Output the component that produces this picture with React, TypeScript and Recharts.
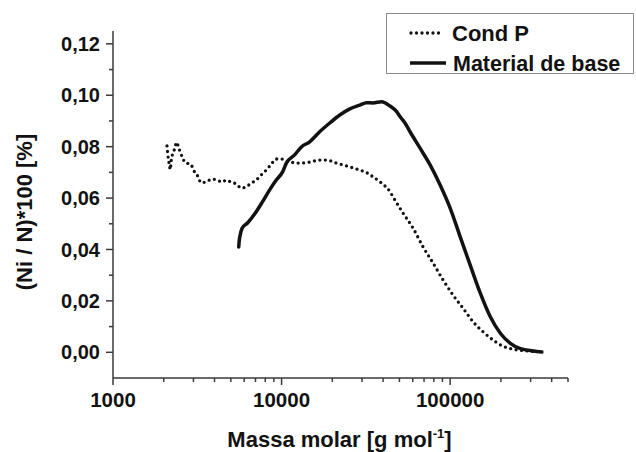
import React from 'react';
import { LineChart, Line, XAxis, YAxis, Legend } from 'recharts';

// ---- data ----
const condPMass = [2090, 2110, 2135, 2160, 2185, 2215, 2250, 2290, 2330, 2380, 2470, 2560, 2680, 2900, 3000, 3180, 3330, 3610, 3830, 4160, 4440, 4690, 5020, 5380, 5760, 6170, 6600, 7070, 7570, 8110, 8690, 9300, 9960, 11160, 12800, 14680, 16830, 18450, 21160, 24280, 27840, 31940, 34820, 39230, 43950, 45790, 52510, 60240, 69070, 79200, 90850, 104200, 119500, 137100, 157200, 180300, 206800, 237100, 287300, 330000];
const condPValues = [0.0803, 0.0775, 0.0748, 0.0729, 0.0711, 0.0745, 0.0768, 0.0782, 0.0794, 0.0817, 0.0790, 0.0764, 0.0738, 0.0731, 0.0709, 0.0686, 0.0660, 0.0664, 0.0674, 0.0670, 0.0662, 0.0670, 0.0662, 0.0655, 0.0639, 0.0644, 0.0658, 0.0670, 0.0690, 0.0709, 0.0732, 0.0752, 0.0752, 0.0741, 0.0736, 0.0740, 0.0748, 0.0748, 0.0736, 0.0725, 0.0713, 0.0699, 0.0683, 0.0658, 0.0625, 0.0605, 0.0542, 0.0483, 0.0410, 0.0347, 0.0281, 0.0222, 0.0171, 0.0118, 0.0079, 0.0047, 0.0023, 0.0012, 0.0005, 0.0002];

const baseMass = [5570, 5600, 5650, 5840, 6280, 7070, 7710, 8480, 9300, 10140, 10670, 11950, 13110, 14680, 16830, 19310, 22140, 25400, 29130, 31940, 34820, 39230, 43950, 48160, 50400, 53960, 57810, 66290, 76030, 87200, 100000, 114700, 131500, 150900, 173000, 198400, 227600, 261000, 311900, 350000];
const baseValues = [0.0410, 0.0430, 0.0449, 0.0483, 0.0503, 0.0547, 0.0586, 0.0631, 0.0670, 0.0702, 0.0736, 0.0768, 0.0799, 0.0819, 0.0858, 0.0892, 0.0923, 0.0947, 0.0962, 0.0971, 0.0970, 0.0975, 0.0958, 0.0936, 0.0917, 0.0892, 0.0858, 0.0794, 0.0729, 0.0651, 0.0561, 0.0449, 0.0339, 0.0230, 0.0138, 0.0074, 0.0035, 0.0014, 0.0005, 0.0001];

const xMajorTicks = [1000, 10000, 100000];
const xMinorTicks = [2000, 3000, 4000, 5000, 6000, 7000, 8000, 9000, 20000, 30000, 40000, 50000, 60000, 70000, 80000, 90000, 200000, 300000, 400000, 500000];
const xDomain = [1000, 500000];

const yMajorTicks = [0, 0.02, 0.04, 0.06, 0.08, 0.1, 0.12];
const yMinorTicks = [0.01, 0.03, 0.05, 0.07, 0.09, 0.11];
const yDomain = [-0.01, 0.125];

const seriesNames = ['Cond P', 'Material de base'];
const xTitle = 'Massa molar [g mol';
const yTitle = '(Ni / N)*100 [%]';

const condPData = condPMass.map((m, i) => ({ m, v: condPValues[i] }));
const baseData = baseMass.map((m, i) => ({ m, v: baseValues[i] }));
const xTicks = [...xMajorTicks, ...xMinorTicks].sort((a, b) => a - b);
const yTicks = [...yMajorTicks, ...yMinorTicks].sort((a, b) => a - b);

const FONT = '"Liberation Sans", Arial, sans-serif';
const AXIS = '#3a3a3a';
const INK = '#121212';

const XTick = (props: any) => {
  const { x, y, payload } = props;
  const v = payload.value;
  const major = xMajorTicks.includes(v);
  return (
    <g>
      <line x1={x} x2={x} y1={y} y2={y + (major ? 7 : 4)} stroke={AXIS} strokeWidth={1.5} />
      {major && (
        <text x={x} y={y + 14} dy="0.71em" textAnchor="middle" fontFamily={FONT} fontWeight="bold" fontSize={20.5} fill={INK}>
          {String(v)}
        </text>
      )}
    </g>
  );
};

const YTick = (props: any) => {
  const { x, y, payload } = props;
  const v = payload.value;
  const major = yMajorTicks.some((t) => Math.abs(t - v) < 1e-9);
  return (
    <g>
      <line x1={x - (major ? 7 : 4)} x2={x} y1={y} y2={y} stroke={AXIS} strokeWidth={1.5} />
      {major && (
        <text x={x - 13} y={y} dy="0.355em" textAnchor="end" fontFamily={FONT} fontWeight="bold" fontSize={20} fill={INK}>
          {v.toFixed(2).replace('.', ',')}
        </text>
      )}
    </g>
  );
};

const renderLegend = () => (
  <svg width={248} height={61} style={{ display: 'block', overflow: 'visible' }}>
    <rect x={0.5} y={0.5} width={247} height={60} fill="#fff" stroke="#8c8c8c" strokeWidth={1} />
    <line x1={25} x2={57} y1={20} y2={20} stroke={INK} strokeWidth={3.3} strokeDasharray="0 5.5" strokeLinecap="round" />
    <text x={66} y={20} dy="0.355em" fontFamily={FONT} fontWeight="bold" fontSize={22} fill={INK}>{seriesNames[0]}</text>
    <line x1={24} x2={60} y1={50} y2={50} stroke={INK} strokeWidth={3.5} />
    <text x={67} y={50} dy="0.355em" fontFamily={FONT} fontWeight="bold" fontSize={21.5} fill={INK}>{seriesNames[1]}</text>
  </svg>
);

export default function App() {
  return (
    <div style={{ position: 'absolute', left: 0, top: 0, background: '#fff' }}>
      <LineChart width={636} height={452} margin={{ top: 31, right: 68, bottom: 0, left: 0 }}>
        <XAxis
          dataKey="m"
          type="number"
          scale="log"
          domain={xDomain}
          allowDataOverflow
          ticks={xTicks}
          interval={0}
          tickSize={0}
          tickMargin={0}
          tick={<XTick />}
          height={74}
          axisLine={{ stroke: AXIS, strokeWidth: 1.5 }}
          label={{
            content: (p: any) => {
              const vb = p.viewBox || { x: 113, width: 455 };
              return (
                <text x={vb.x + vb.width / 2 - 1} y={447} textAnchor="middle" fontFamily={FONT} fontWeight="bold" fontSize={22} fill={INK}>
                  <tspan>{xTitle}</tspan>
                  <tspan dy={-9} fontSize={13}>-1</tspan>
                  <tspan dy={9}>]</tspan>
                </text>
              );
            },
          }}
        />
        <YAxis
          type="number"
          domain={yDomain}
          allowDataOverflow
          ticks={yTicks}
          interval={0}
          tickSize={0}
          tickMargin={0}
          tick={<YTick />}
          width={113}
          axisLine={{ stroke: AXIS, strokeWidth: 1.5 }}
          label={{
            content: () => (
              <text x={24} y={212} transform="rotate(-90, 24, 212)" textAnchor="middle" dy="0.355em" fontFamily={FONT} fontWeight="bold" fontSize={22} fill={INK}>
                {yTitle}
              </text>
            ),
          }}
        />
        <Legend
          layout="vertical"
          align="center"
          verticalAlign="middle"
          content={renderLegend}
          wrapperStyle={{ position: 'absolute', left: 386, top: 13, width: 248, height: 61 }}
        />
        <Line
          data={condPData}
          dataKey="v"
          name={seriesNames[0]}
          type="monotone"
          stroke={INK}
          strokeWidth={3.3}
          strokeDasharray="0 5.5"
          strokeLinecap="round"
          dot={false}
          activeDot={false}
          isAnimationActive={false}
        />
        <Line
          data={baseData}
          dataKey="v"
          name={seriesNames[1]}
          type="monotone"
          stroke={INK}
          strokeWidth={3.5}
          strokeLinejoin="round"
          strokeLinecap="round"
          dot={false}
          activeDot={false}
          isAnimationActive={false}
        />
      </LineChart>
    </div>
  );
}
